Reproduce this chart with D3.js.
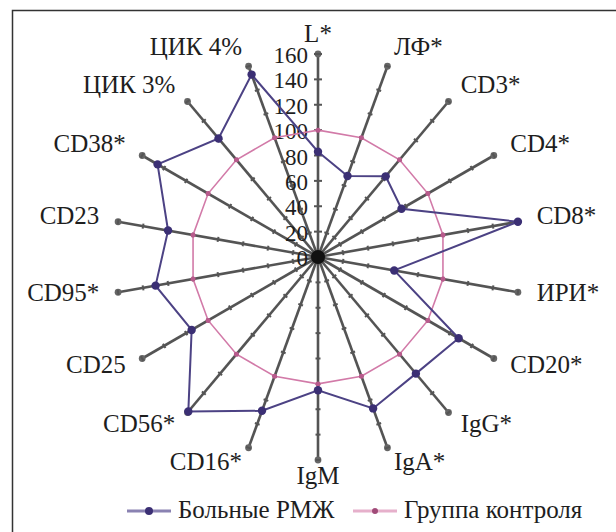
<!DOCTYPE html>
<html>
<head>
<meta charset="utf-8">
<script src="https://cdn.jsdelivr.net/npm/d3@7"></script>
<style>
  html, body { margin: 0; padding: 0; background: #fff; }
  svg text { font-family: "Liberation Serif", "DejaVu Serif", serif; fill: #1e1e1e; }
</style>
</head>
<body>
<div id="chart"></div>
<script>
// spokes, clockwise from the top
var axes = ["L*", "ЛФ*", "CD3*", "CD4*", "CD8*", "ИРИ*", "CD20*", "IgG*", "IgA*",
            "IgM", "CD16*", "CD56*", "CD25", "CD95*", "CD23", "CD38*", "ЦИК 3%", "ЦИК 4%"];

// values (control group = 100 %)
var patients = [83, 68, 83, 76, 160, 61, 128, 120, 127, 105, 129, 159, 115, 130, 120, 146, 122, 153];
var control  = [100, 100, 100, 100, 100, 100, 100, 100, 100, 100, 100, 100, 100, 100, 100, 100, 100, 100];

var ticks = [0, 20, 40, 60, 80, 100, 120, 140, 160];
var seriesNames = ["Больные РМЖ", "Группа контроля"];

var fullWidth = 616, fullHeight = 532,
    cx = 318, cy = 257;

var r = d3.scaleLinear().domain([0, 160]).range([0, 203]);
var angle = d3.scaleLinear().domain([0, axes.length]).range([0, 2 * Math.PI]);

function px(i, v) { return Math.sin(angle(i)) * r(v); }
function py(i, v) { return -Math.cos(angle(i)) * r(v); }

var svg = d3.select("#chart").append("svg")
        .attr("width", fullWidth)
        .attr("height", fullHeight);

// frame (only left and top edges are visible)
svg.append("path")
        .attr("d", "M12.5," + fullHeight + "V10.5H" + fullWidth)
        .attr("fill", "none")
        .attr("stroke", "#333")
        .attr("stroke-width", 1.5);

var g = svg.append("g")
        .attr("transform", "translate(" + cx + "," + cy + ")");

// spokes with their little ticks
var spoke = g.append("g").attr("class", "spokes")
        .selectAll("g")
        .data(axes)
        .enter().append("g");

spoke.append("line")
        .attr("x1", 0).attr("y1", 0)
        .attr("x2", function (d, i) { return px(i, 160); })
        .attr("y2", function (d, i) { return py(i, 160); })
        .attr("stroke", "#3c3c3c")
        .attr("stroke-width", 2.6)
        .attr("stroke-opacity", 0.88);

spoke.append("circle")
        .attr("cx", function (d, i) { return px(i, 160); })
        .attr("cy", function (d, i) { return py(i, 160); })
        .attr("r", 3.4)
        .attr("fill", "#666");

spoke.each(function (d, i) {
    var a = angle(i), len = i === 0 ? 4 : 2.5;
    var nx = Math.cos(a), ny = Math.sin(a);   // perpendicular to the spoke
    d3.select(this).selectAll("line.tick")
        .data(ticks.slice(1))
        .enter().append("line")
        .attr("class", "tick")
        .attr("x1", function (v) { return px(i, v) - nx * len; })
        .attr("y1", function (v) { return py(i, v) - ny * len; })
        .attr("x2", function (v) { return px(i, v) + nx * len; })
        .attr("y2", function (v) { return py(i, v) + ny * len; })
        .attr("stroke", "#555")
        .attr("stroke-width", 2);
});

// value labels on the first spoke
g.append("g").attr("class", "value axis")
        .selectAll("text")
        .data(ticks)
        .enter().append("text")
        .attr("x", -10)
        .attr("y", function (v) { return -r(v) + 1; })
        .attr("dy", "0.35em")
        .attr("text-anchor", "end")
        .style("font-size", "23px")
        .text(function (v) { return v; });

// category labels
g.append("g").attr("class", "labels")
        .selectAll("text")
        .data(axes)
        .enter().append("text")
        .attr("x", function (d, i) { return Math.sin(angle(i)) * 222; })
        .attr("y", function (d, i) { return -Math.cos(angle(i)) * 221 - 3; })
        .attr("dy", "0.35em")
        .attr("text-anchor", function (d, i) {
            var s = Math.sin(angle(i));
            return s > 0.3 ? "start" : (s < -0.3 ? "end" : "middle");
        })
        .style("font-size", "25px")
        .text(function (d) { return d; });

var radial = d3.lineRadial()
        .angle(function (d, i) { return angle(i); })
        .radius(function (d) { return r(d); })
        .curve(d3.curveLinearClosed);

var colors = ["#3b2f74", "#d27aa8"];

// control group
g.append("path")
        .datum(control)
        .attr("d", radial)
        .attr("fill", "none")
        .attr("stroke", colors[1])
        .attr("stroke-width", 1.6);

g.append("g").selectAll("circle")
        .data(control)
        .enter().append("circle")
        .attr("cx", function (d, i) { return px(i, d); })
        .attr("cy", function (d, i) { return py(i, d); })
        .attr("r", 2.5)
        .attr("fill", "#b85a8c");

// patients
g.append("path")
        .datum(patients)
        .attr("d", radial)
        .attr("fill", "none")
        .attr("stroke", "#4c4284")
        .attr("stroke-width", 2);

g.append("g").selectAll("circle")
        .data(patients)
        .enter().append("circle")
        .attr("cx", function (d, i) { return px(i, d); })
        .attr("cy", function (d, i) { return py(i, d); })
        .attr("r", 4.2)
        .attr("fill", colors[0]);

// center blob where the spokes meet
g.append("circle").attr("r", 7).attr("fill", "#111");

// legend
var legendX = [127, 353];
var legend = svg.append("g").attr("class", "legend")
        .selectAll("g")
        .data(seriesNames)
        .enter().append("g")
        .attr("transform", function (d, i) { return "translate(" + legendX[i] + ",511)"; });

legend.append("line")
        .attr("x1", 0).attr("x2", 44)
        .attr("stroke", function (d, i) { return i === 0 ? "#8a82b2" : "#e6b0cb"; })
        .attr("stroke-width", 3);

legend.append("circle")
        .attr("cx", 22)
        .attr("r", function (d, i) { return i === 0 ? 4 : 3; })
        .attr("fill", function (d, i) { return i === 0 ? colors[0] : "#a04a78"; });

legend.append("text")
        .attr("x", 51)
        .attr("y", 7)
        .style("font-size", "25px")
        .text(function (d) { return d; });
</script>
</body>
</html>
